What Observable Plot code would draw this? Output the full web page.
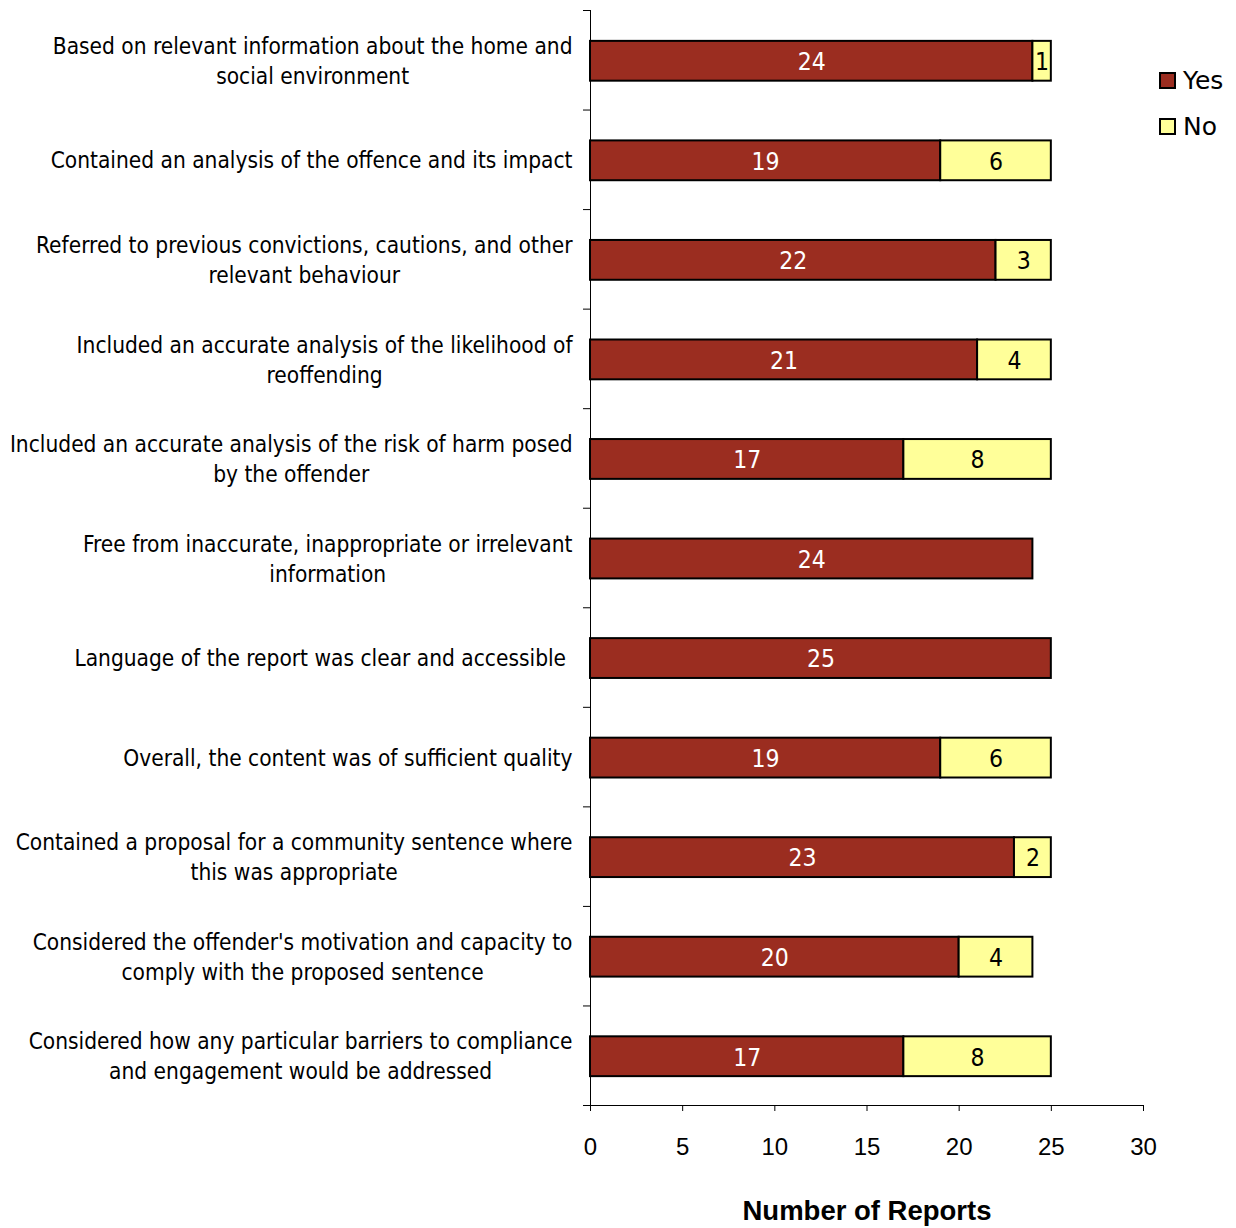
<!DOCTYPE html>
<html>
<head>
<meta charset="utf-8">
<script src="https://cdn.jsdelivr.net/npm/d3@7"></script>
<script src="https://cdn.jsdelivr.net/npm/@observablehq/plot@0.6"></script>
<style>
  html, body { margin: 0; padding: 0; background: #fff; }
  #wrap { position: relative; width: 1236px; height: 1228px; }
  #legend { position: absolute; left: 1159px; top: 67px; font-family: "DejaVu Sans", sans-serif; font-size: 25px; color: #000; }
  #legend .item { display: flex; align-items: center; height: 26px; margin-bottom: 20.5px; }
  #legend .sw { width: 13px; height: 13px; border: 2px solid #000; margin-right: 7px; flex: none; }
</style>
</head>
<body>
<div id="wrap"><div id="legend"></div></div>
<script>
const categories = [
  "Based on relevant information about the home and\nsocial environment",
  "Contained an analysis of the offence and its impact",
  "Referred to previous convictions, cautions, and other\nrelevant behaviour",
  "Included an accurate analysis of the likelihood of\nreoffending",
  "Included an accurate analysis of the risk of harm posed\nby the offender",
  "Free from inaccurate, inappropriate or irrelevant\ninformation",
  "Language of the report was clear and accessible\u00A0",
  "Overall, the content was of sufficient quality",
  "Contained a proposal for a community sentence where\nthis was appropriate",
  "Considered the offender's motivation and capacity to\ncomply with the proposed sentence",
  "Considered how any particular barriers to compliance\nand engagement would be addressed"
];
const yesValues = [24, 19, 22, 21, 17, 24, 25, 19, 23, 20, 17];
const noValues  = [1, 6, 3, 4, 8, 0, 0, 6, 2, 4, 8];
const series = ["Yes", "No"];
const seriesColors = ["#9B2D20", "#FFFF99"];
const xTicks = [0, 5, 10, 15, 20, 25, 30];
const xLabel = "Number of Reports";

const data = categories.flatMap((q, i) => [
  {q, answer: "Yes", value: yesValues[i]},
  {q, answer: "No", value: noValues[i]}
]).filter(d => d.value > 0);

const W = 1236, H = 1228;
const mTop = 10, mBottom = 123, mLeft = 590, mRight = 93;
const step = (H - mTop - mBottom) / categories.length;
const labelFont = "'DejaVu Sans Condensed', 'DejaVu Sans', sans-serif";

const stackOpts = {x: "value", y: "q", z: "answer", order: series};

const chart = Plot.plot({
  width: W,
  height: H,
  marginTop: mTop,
  marginBottom: mBottom,
  marginLeft: mLeft,
  marginRight: mRight,
  style: {background: "#fff", color: "#000"},
  x: {domain: [0, 30]},
  y: {domain: categories, paddingInner: 0.6, paddingOuter: 0.3, round: false},
  color: {domain: series, range: seriesColors},
  marks: [
    Plot.barX(data, Plot.stackX({...stackOpts, fill: "answer", stroke: "#000", strokeWidth: 2, dy: 1})),
    Plot.text(data, Plot.stackX({...stackOpts, text: d => d.answer === "Yes" ? String(d.value) : null, fill: "#fff", fontSize: 24.5, fontFamily: labelFont, dy: 2})),
    Plot.text(data, Plot.stackX({...stackOpts, text: d => d.answer === "No" ? String(d.value) : null, fill: "#000", fontSize: 24.5, fontFamily: labelFont, dy: 2})),
    Plot.ruleX([0], {stroke: "#000", strokeWidth: 1}),
    Plot.frame({anchor: "bottom", stroke: "#000", strokeWidth: 1}),
    Plot.axisX({
      ticks: xTicks, tickSize: 6, tickPadding: 26, fontSize: 24,
      fontFamily: "'Liberation Sans', Arial, sans-serif",
      label: xLabel, labelAnchor: "center", labelArrow: "none", labelOffset: 114
    }),
    Plot.axisY({tickSize: 0, tickPadding: 18, fontSize: 22.5, lineHeight: 1.333, fontFamily: labelFont, label: null, dy: -1}),
    Plot.axisY({tickSize: 7, tickFormat: () => "", label: null, dy: -step / 2}),
    Plot.axisY({ticks: [categories[categories.length - 1]], tickSize: 7, tickFormat: () => "", label: null, dy: step / 2})
  ]
});

const wrap = document.getElementById("wrap");
wrap.insertBefore(chart, wrap.firstChild);

// Center the lines of each multi-line y label within a right-aligned block
chart.querySelectorAll('g[aria-label="y-axis tick label"] text').forEach(t => {
  const spans = t.querySelectorAll("tspan");
  if (spans.length > 1) {
    const w = Math.max(...Array.from(spans, s => s.getComputedTextLength()));
    t.setAttribute("text-anchor", "middle");
    spans.forEach(s => s.setAttribute("x", -w / 2));
  }
});
// Bold axis title
chart.querySelectorAll('g[aria-label="x-axis label"] text').forEach(t => {
  t.setAttribute("font-weight", "bold");
  t.setAttribute("font-size", 27.5);
});

// Legend
const legend = document.getElementById("legend");
series.forEach((s, i) => {
  const item = document.createElement("div");
  item.className = "item";
  const sw = document.createElement("div");
  sw.className = "sw";
  sw.style.background = seriesColors[i];
  const label = document.createElement("span");
  label.textContent = s;
  item.appendChild(sw);
  item.appendChild(label);
  legend.appendChild(item);
});
</script>
</body>
</html>
